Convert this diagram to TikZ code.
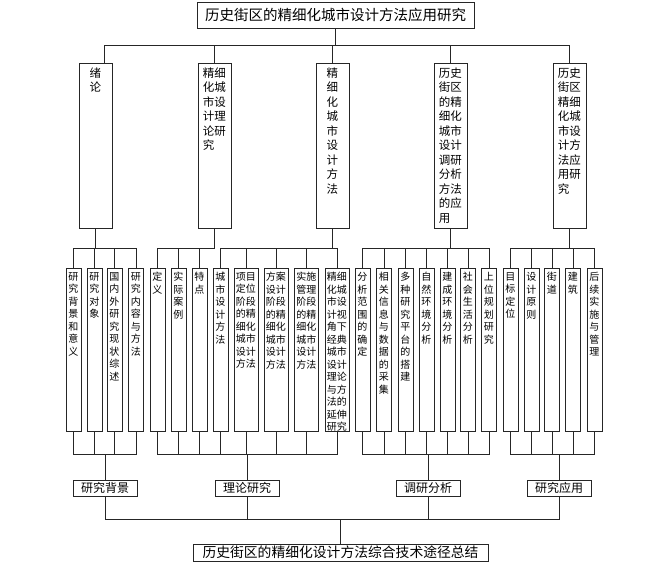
\documentclass[tikz,border=0pt]{standalone}
\usepackage{fontspec}
\setmainfont{Noto Sans CJK SC}
\usepackage{tikz}
\usetikzlibrary{positioning}

% text stacked from the top of a tall box
\newcommand{\colbox}[2]{\parbox[c][165pt][t]{#1}{\raggedright\vspace*{4pt}#2}}
\newcommand{\leafbox}[2]{\parbox[c][163pt][t]{#1}{\raggedright\vspace*{4pt}#2}}

\begin{document}
\begin{tikzpicture}[x=1pt,y=-1pt,
  line/.style={black!85,line width=0.8pt},
  box/.style={draw=black!85,line width=0.8pt,inner sep=0pt},
  headbox/.style={box,minimum width=277pt,minimum height=26pt,font=\fontsize{14.5}{16}\selectfont},
  sumbox/.style={box,minimum width=295pt,minimum height=17pt,font=\fontsize{13.8}{15}\selectfont},
  chapter/.style={box,anchor=north,minimum width=33pt,font=\fontsize{11.5}{14.5}\selectfont},
  leaf/.style={box,anchor=north,minimum width=15pt,font=\fontsize{10}{12.5}\selectfont},
  wideleaf/.style={leaf,minimum width=24pt},
  part/.style={box,minimum width=64pt,minimum height=16pt,font=\fontsize{12}{14}\selectfont}]

  \useasboundingbox (0,0) rectangle (660,567);

  % Head
  \node[headbox] (title) at (335.5,15) {历史街区的精细化城市设计方法应用研究};

  % Chapters
  \node[chapter] (c1) at (95.5,63)  {\colbox{11.6pt}{绪\\论}};
  \node[chapter] (c2) at (214.5,63) {\colbox{23.2pt}{精细\\化城\\市设\\计理\\论研\\究}};
  \node[chapter] (c3) at (332.5,63) {\colbox{11.6pt}{精\\细\\化\\城\\市\\设\\计\\方\\法}};
  \node[chapter] (c4) at (450.5,63) {\colbox{23.2pt}{历史\\街区\\的精\\细化\\城市\\设计\\调研\\分析\\方法\\的应\\用}};
  \node[chapter] (c5) at (569.5,63) {\colbox{23.2pt}{历史\\街区\\精细\\化城\\市设\\计方\\法应\\用研\\究}};

  % Leaves: background
  \node[leaf] (bg1) at (73.5,268)  {\leafbox{10.2pt}{研\\究\\背\\景\\和\\意\\义}};
  \node[leaf] (bg2) at (94.5,268)  {\leafbox{10.2pt}{研\\究\\对\\象}};
  \node[leaf] (bg3) at (114.5,268) {\leafbox{10.2pt}{国\\内\\外\\研\\究\\现\\状\\综\\述}};
  \node[leaf] (bg4) at (136,268)   {\leafbox{10.2pt}{研\\究\\内\\容\\与\\方\\法}};

  % Leaves: theory
  \node[leaf] (th1) at (157.5,268) {\leafbox{10.2pt}{定\\义}};
  \node[leaf] (th2) at (178.5,268) {\leafbox{10.2pt}{实\\际\\案\\例}};
  \node[leaf] (th3) at (199.5,268) {\leafbox{10.2pt}{特\\点}};
  \node[leaf] (th4) at (220.5,268) {\leafbox{10.2pt}{城\\市\\设\\计\\方\\法}};
  \node[wideleaf] (th5) at (246,268)   {\leafbox{20.4pt}{项目\\定位\\阶段\\的精\\细化\\城市\\设计\\方法}};
  \node[wideleaf] (th6) at (276,268)   {\leafbox{20.4pt}{方案\\设计\\阶段\\的精\\细化\\城市\\设计\\方法}};
  \node[wideleaf] (th7) at (306.5,268) {\leafbox{20.4pt}{实施\\管理\\阶段\\的精\\细化\\城市\\设计\\方法}};
  \node[wideleaf] (th8) at (337,268)   {\leafbox{20.4pt}{精细\\化城\\市设\\计视\\角下\\经典\\城市\\设计\\理论\\与方\\法的\\延伸\\研究}};

  % Leaves: analysis
  \node[leaf] (an1) at (362.5,268) {\leafbox{10.2pt}{分\\析\\范\\围\\的\\确\\定}};
  \node[leaf] (an2) at (384,268)   {\leafbox{10.2pt}{相\\关\\信\\息\\与\\数\\据\\的\\采\\集}};
  \node[leaf] (an3) at (405.5,268) {\leafbox{10.2pt}{多\\种\\研\\究\\平\\台\\的\\搭\\建}};
  \node[leaf] (an4) at (426.5,268) {\leafbox{10.2pt}{自\\然\\环\\境\\分\\析}};
  \node[leaf] (an5) at (447.5,268) {\leafbox{10.2pt}{建\\成\\环\\境\\分\\析}};
  \node[leaf] (an6) at (468,268)   {\leafbox{10.2pt}{社\\会\\生\\活\\分\\析}};
  \node[leaf] (an7) at (489,268)   {\leafbox{10.2pt}{上\\位\\规\\划\\研\\究}};

  % Leaves: application
  \node[leaf] (ap1) at (510.5,268) {\leafbox{10.2pt}{目\\标\\定\\位}};
  \node[leaf] (ap2) at (531.5,268) {\leafbox{10.2pt}{设\\计\\原\\则}};
  \node[leaf] (ap3) at (552,268)   {\leafbox{10.2pt}{街\\道}};
  \node[leaf] (ap4) at (573,268)   {\leafbox{10.2pt}{建\\筑}};
  \node[leaf] (ap5) at (594.5,268) {\leafbox{10.2pt}{后\\续\\实\\施\\与\\管\\理}};

  % Parts
  \node[part] (pbg) at (105,488) {研究背景};
  \node[part] (pth) at (247,488) {理论研究};
  \node[part] (pan) at (428,488) {调研分析};
  \node[part] (pap) at (559,488) {研究应用};

  % Summary
  \node[sumbox] (sum) at (340.5,552.5) {历史街区的精细化设计方法综合技术途径总结};

  % Head to chapters
  \coordinate (hbar) at (0,45);
  \draw[line] (title.south) -- (title.south |- hbar);
  \draw[line] ([xshift=-8pt]c1.north east) |- (c5.north |- hbar) -- (c5.north);
  \foreach \c in {c2,c3,c4}
    \draw[line] (\c.north) -- (\c.north |- hbar);

  % Chapters to leaves
  \foreach \l in {bg1,bg2,bg3,bg4}
    \draw[line] (c1.south) -- ++(0,20) -| (\l.north);
  \foreach \l in {th1,th2,th3}
    \draw[line] (c2.south) -- ++(0,20) -| (\l.north);
  \foreach \l in {th4,th5,th6,th7,th8}
    \draw[line] (c3.south) -- ++(0,20) -| (\l.north);
  \foreach \l in {an1,an2,an3,an4,an5,an6,an7}
    \draw[line] (c4.south) -- ++(0,20) -| (\l.north);
  \foreach \l in {ap1,ap2,ap3,ap4,ap5}
    \draw[line] (c5.south) -- ++(0,20) -| (\l.north);

  % Leaves to parts
  \foreach \l in {bg1,bg2,bg3,bg4}
    \draw[line] (\l.south) -- ++(0,23) -| (pbg.north);
  \foreach \l in {th1,th2,th3,th4,th5,th6,th7,th8}
    \draw[line] (\l.south) -- ++(0,23) -| (pth.north);
  \foreach \l in {an1,an2,an3,an4,an5,an6,an7}
    \draw[line] (\l.south) -- ++(0,23) -| (pan.north);
  \foreach \l in {ap1,ap2,ap3,ap4,ap5}
    \draw[line] (\l.south) -- ++(0,23) -| (pap.north);

  % Parts to summary
  \foreach \p in {pbg,pth,pan,pap}
    \draw[line] (\p.south) -- ++(0,23) -| (sum.north);

\end{tikzpicture}
\end{document}
